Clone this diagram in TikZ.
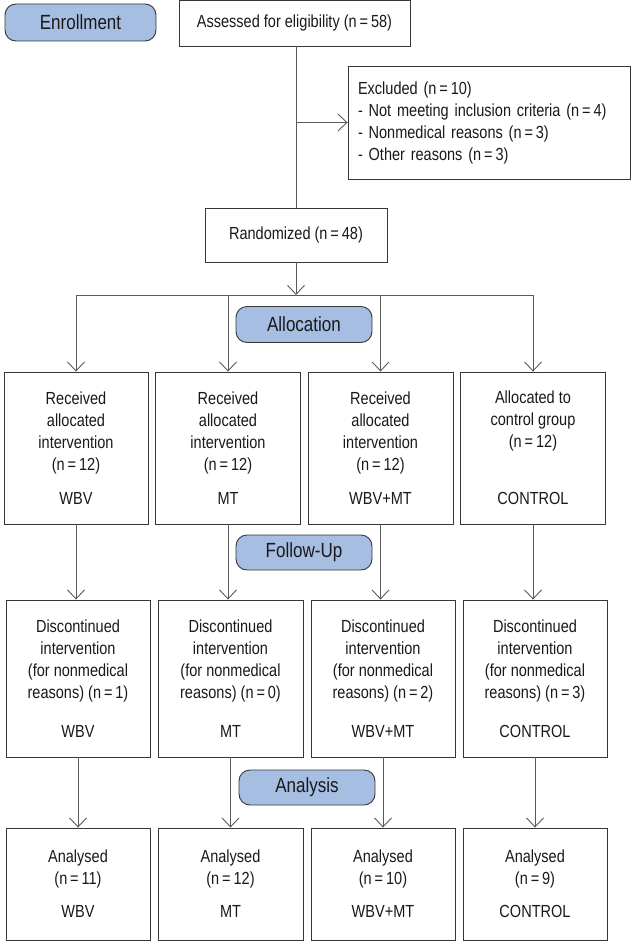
\documentclass[tikz,border=0pt]{standalone}
\usepackage{fontspec}
\setmainfont[FakeStretch=0.83]{Liberation Sans}
\usetikzlibrary{arrows.meta}
\definecolor{stagefill}{RGB}{166,190,226}
\definecolor{linegray}{RGB}{90,90,90}
\definecolor{boxgray}{RGB}{55,55,55}

\begin{document}
\begin{tikzpicture}[x=1pt,y=-1pt,
    box/.style={draw=boxgray, line width=0.9pt, align=center, inner sep=0pt, font=\fontsize{17.5}{22}\selectfont, text=black!90},
    stage/.style={draw=boxgray, line width=0.9pt, fill=stagefill, rounded corners=11pt, minimum width=136pt, minimum height=36pt, inner sep=0pt, font=\fontsize{20.5}{22}\selectfont, text=black!90},
    conn/.style={draw=linegray, line width=0.9pt},
    arr/.style={conn, -{Straight Barb[length=9pt,width=17pt]}}]
    \useasboundingbox (0,0) rectangle (633,942);
    %Enrollment
    \node[stage, minimum width=151pt, minimum height=37pt] (enrol) at (80.5,22.5) {Enrollment};
    \node[box, minimum width=231pt, minimum height=46pt] (assess) at (294.5,23) {Assessed for eligibility (n\,=\,58)};
    \node[box, minimum width=282pt, minimum height=113pt, align=left, text width=262pt] (excl) at (489,122.5) {Excluded (n\,=\,10)\\- Not meeting inclusion criteria (n\,=\,4)\\- Nonmedical reasons (n\,=\,3)\\- Other reasons (n\,=\,3)};
    \node[box, minimum width=182pt, minimum height=54pt] (rand) at (296,235) {Randomized (n\,=\,48)};
    \draw[conn] (assess.south -| rand) -- (rand.north);
    \draw[arr] (rand.north |- excl.west) -- (excl.west);

    %Allocation
    \node[stage] (alloc) at (304,324.5) {Allocation};
    \node[box, minimum width=144pt, minimum height=152pt] (wbvA) at (76,448) {Received\\allocated\\intervention\\(n\,=\,12)\\[12pt]WBV};
    \node[box, minimum width=145pt, minimum height=152pt] (mtA) at (228,448) {Received\\allocated\\intervention\\(n\,=\,12)\\[12pt]MT};
    \node[box, minimum width=145pt, minimum height=152pt] (wbvmtA) at (380.5,448) {Received\\allocated\\intervention\\(n\,=\,12)\\[12pt]WBV+MT};
    \node[box, minimum width=145pt, minimum height=152pt] (ctrlA) at (533,448) {Allocated to\\control group\\(n\,=\,12)\\[35pt]CONTROL};
    \coordinate (split) at (296,295);
    \draw[arr] (rand.south) -- (split);
    \draw[conn] (wbvA.north |- split) -- (ctrlA.north |- split);
    \foreach \b in {wbvA,mtA,wbvmtA,ctrlA}
        \draw[arr] (\b.north |- split) -- (\b.north);

    %Follow-Up
    \node[stage, minimum height=35pt] (follow) at (304,552.5) {Follow-Up};
    \node[box, minimum width=144pt, minimum height=157pt] (wbvF) at (78,678.5) {Discontinued\\intervention\\(for nonmedical\\reasons) (n\,=\,1)\\[17pt]WBV};
    \node[box, minimum width=145pt, minimum height=157pt] (mtF) at (230.5,678.5) {Discontinued\\intervention\\(for nonmedical\\reasons) (n\,=\,0)\\[17pt]MT};
    \node[box, minimum width=144pt, minimum height=157pt] (wbvmtF) at (383,678.5) {Discontinued\\intervention\\(for nonmedical\\reasons) (n\,=\,2)\\[17pt]WBV+MT};
    \node[box, minimum width=144pt, minimum height=157pt] (ctrlF) at (535,678.5) {Discontinued\\intervention\\(for nonmedical\\reasons) (n\,=\,3)\\[17pt]CONTROL};
    \foreach \a/\b in {wbvA/wbvF,mtA/mtF,wbvmtA/wbvmtF,ctrlA/ctrlF}
        \draw[arr] (\a.south) -- (\a.south |- \b.north);

    %Analysis
    \node[stage, minimum height=35pt] (anal) at (307,787.5) {Analysis};
    \node[box, minimum width=144pt, minimum height=112pt] (wbvN) at (78,884) {Analysed\\(n\,=\,11)\\[11pt]WBV};
    \node[box, minimum width=145pt, minimum height=112pt] (mtN) at (230.5,884) {Analysed\\(n\,=\,12)\\[11pt]MT};
    \node[box, minimum width=144pt, minimum height=112pt] (wbvmtN) at (383,884) {Analysed\\(n\,=\,10)\\[11pt]WBV+MT};
    \node[box, minimum width=144pt, minimum height=112pt] (ctrlN) at (535,884) {Analysed\\(n\,=\,9)\\[11pt]CONTROL};
    \foreach \a/\b in {wbvF/wbvN,mtF/mtN,wbvmtF/wbvmtN,ctrlF/ctrlN}
        \draw[arr] (\a.south) -- (\a.south |- \b.north);
\end{tikzpicture}
\end{document}
